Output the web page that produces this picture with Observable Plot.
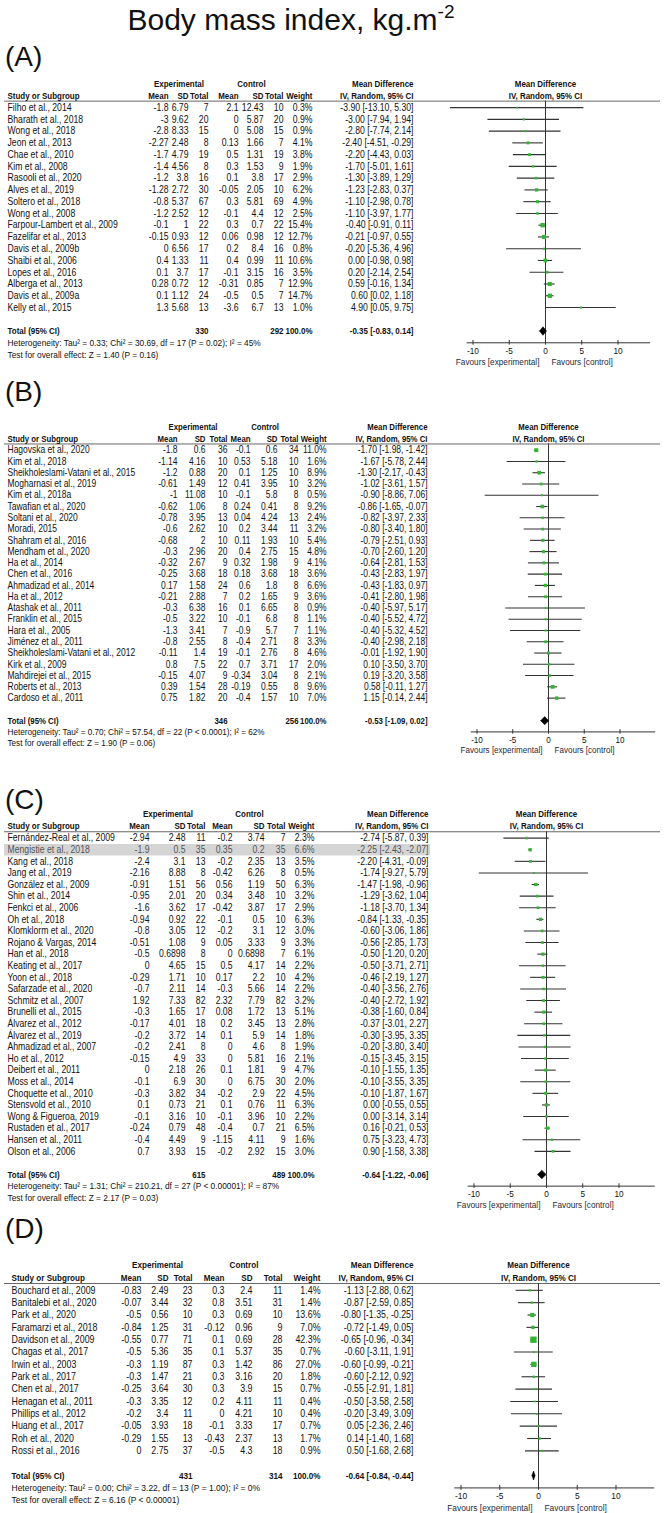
<!DOCTYPE html>
<html>
<head>
<meta charset="utf-8">
<script src="https://cdn.jsdelivr.net/npm/d3@7"></script>
<script src="https://cdn.jsdelivr.net/npm/@observablehq/plot@0.6"></script>
<style>
  html, body { margin: 0; padding: 0; background: #fff; }
  #root { position: relative; width: 664px; height: 1513px; overflow: hidden; background: #fff; }
  .title { position: absolute; left: 0; width: 582px; top: 3px; text-align: center;
           font-family: "Liberation Sans", Arial, sans-serif; font-size: 30px; line-height: 34px; color: #111; }
  .title sup { font-size: 19px; vertical-align: 0; position: relative; top: -12px; }
  .plabel { position: absolute; left: 5px; font-family: "Liberation Sans", Arial, sans-serif;
            font-size: 28px; line-height: 30px; color: #111; }
</style>
</head>
<body>
<div id="root">
  <div class="title">Body mass index, kg.m<sup>-2</sup></div>
</div>
<script>
// ---------------- DATA ----------------
// Panel A
const namesA = ["Filho et al., 2014","Bharath et al., 2018","Wong et al., 2018","Jeon et al., 2013","Chae et al., 2010","Kim et al., 2008","Rasooli et al., 2020","Alves et al., 2019","Soltero et al., 2018","Wong et al., 2008","Farpour-Lambert et al., 2009","Fazelifar et al., 2013","Davis et al., 2009b","Shaibi et al., 2006","Lopes et al., 2016","Alberga et al., 2013","Davis et al., 2009a","Kelly et al., 2015"];
const expMeanA = [-1.8,-3,-2.8,-2.27,-1.7,-1.4,-1.2,-1.28,-0.8,-1.2,-0.1,-0.15,0,0.4,0.1,0.28,0.1,1.3];
const expSdA = [6.79,9.62,8.33,2.48,4.79,4.56,3.8,2.72,5.37,2.52,1,0.93,6.56,1.33,3.7,0.72,1.12,5.68];
const expNA = [7,20,15,8,19,8,16,30,67,12,22,12,17,11,17,12,24,13];
const ctlMeanA = [2.1,0,0,0.13,0.5,0.3,0.1,-0.05,0.3,-0.1,0.3,0.06,0.2,0.4,-0.1,-0.31,-0.5,-3.6];
const ctlSdA = [12.43,5.87,5.08,1.66,1.31,1.53,3.8,2.05,5.81,4.4,0.7,0.98,8.4,0.99,3.15,0.85,0.5,6.7];
const ctlNA = [10,20,15,7,19,9,17,10,69,12,22,12,16,11,16,7,7,13];
const weightA = [0.3,0.9,0.9,4.1,3.8,1.9,2.9,6.2,4.9,2.5,15.4,12.7,0.8,10.6,3.5,12.9,14.7,1.0];
const mdA = [-3.90,-3.00,-2.80,-2.40,-2.20,-1.70,-1.30,-1.23,-1.10,-1.10,-0.40,-0.21,-0.20,0.00,0.20,0.59,0.60,4.90];
const loA = [-13.10,-7.94,-7.74,-4.51,-4.43,-5.01,-3.89,-2.83,-2.98,-3.97,-0.91,-0.97,-5.36,-0.98,-2.14,-0.16,0.02,0.05];
const hiA = [5.30,1.94,2.14,-0.29,0.03,1.61,1.29,0.37,0.78,1.77,0.11,0.55,4.96,0.98,2.54,1.34,1.18,9.75];
const totalA = [330, 292, -0.35, -0.83, 0.14];
const hetA = "Heterogeneity: Tau² = 0.33; Chi² = 30.69, df = 17 (P = 0.02); I² = 45%";
const testA = "Test for overall effect: Z = 1.40 (P = 0.16)";

// Panel B
const namesB = ["Hagovska et al., 2020","Kim et al., 2018","Sheikholeslami-Vatani et al., 2015","Mogharnasi et al., 2019","Kim et al., 2018a","Tawafian et al., 2020","Soltani et al., 2020","Moradi, 2015","Shahram et al., 2016","Mendham et al., 2020","Ha et al., 2014","Chen et al., 2016","Ahmadizad et al., 2014","Ha et al., 2012","Atashak et al., 2011","Franklin et al., 2015","Hara et al., 2005","Jiménez et al., 2011","Sheikholeslami-Vatani et al., 2012","Kirk et al., 2009","Mahdirejei et al., 2015","Roberts et al., 2013","Cardoso et al., 2011"];
const expMeanB = [-1.8,-1.14,-1.2,-0.61,-1,-0.62,-0.78,-0.6,-0.68,-0.3,-0.32,-0.25,0.17,-0.21,-0.3,-0.5,-1.3,-0.8,-0.11,0.8,-0.15,0.39,0.75];
const expSdB = [0.6,4.16,0.88,1.49,11.08,1.06,3.95,2.62,2,2.96,2.67,3.68,1.58,2.88,6.38,3.22,3.41,2.55,1.4,7.5,4.07,1.54,1.82];
const expNB = [36,10,20,12,10,8,13,10,10,20,9,18,24,7,16,10,7,8,19,22,9,28,20];
const ctlMeanB = [-0.1,0.53,0.1,0.41,-0.1,0.24,0.04,0.2,0.11,0.4,0.32,0.18,0.6,0.2,0.1,-0.1,-0.9,-0.4,-0.1,0.7,-0.34,-0.19,-0.4];
const ctlSdB = [0.6,5.18,1.25,3.95,5.8,0.41,4.24,3.44,1.93,2.75,1.98,3.68,1.8,1.65,6.65,6.8,5.7,2.71,2.76,3.71,3.04,0.55,1.57];
const ctlNB = [34,10,10,10,8,8,13,11,10,15,9,18,8,9,8,8,7,8,8,17,8,8,10];
const weightB = [11.0,1.6,8.9,3.2,0.5,9.2,2.4,3.2,5.4,4.8,4.1,3.6,6.6,3.6,0.9,1.1,1.1,3.3,4.6,2.0,2.1,9.6,7.0];
const mdB = [-1.70,-1.67,-1.30,-1.02,-0.90,-0.86,-0.82,-0.80,-0.79,-0.70,-0.64,-0.43,-0.43,-0.41,-0.40,-0.40,-0.40,-0.40,-0.01,0.10,0.19,0.58,1.15];
const loB = [-1.98,-5.78,-2.17,-3.61,-8.86,-1.65,-3.97,-3.40,-2.51,-2.60,-2.81,-2.83,-1.83,-2.80,-5.97,-5.52,-5.32,-2.98,-1.92,-3.50,-3.20,-0.11,-0.14];
const hiB = [-1.42,2.44,-0.43,1.57,7.06,-0.07,2.33,1.80,0.93,1.20,1.53,1.97,0.97,1.98,5.17,4.72,4.52,2.18,1.90,3.70,3.58,1.27,2.44];
const totalB = [346, 256, -0.53, -1.09, 0.02];
const hetB = "Heterogeneity: Tau² = 0.70; Chi² = 57.54, df = 22 (P < 0.0001); I² = 62%";
const testB = "Test for overall effect: Z = 1.90 (P = 0.06)";

// Panel C
const namesC = ["Fernández-Real et al., 2009","Mengistie et al., 2018","Kang et al., 2018","Jang et al., 2019","González et al., 2009","Shin et al., 2014","Fenkci et al., 2006","Oh et al., 2018","Klomklorm et al., 2020","Rojano & Vargas, 2014","Han et al., 2018","Keating et al., 2017","Yoon et al., 2018","Safarzade et al., 2020","Schmitz et al., 2007","Brunelli et al., 2015","Álvarez et al., 2012","Álvarez et al., 2019","Ahmadizad et al., 2007","Ho et al., 2012","Deibert et al., 2011","Moss et al., 2014","Choquette et al., 2010","Stensvold et al., 2010","Wong & Figueroa, 2019","Rustaden et al., 2017","Hansen et al., 2011","Olson et al., 2006"];
const expMeanC = [-2.94,-1.9,-2.4,-2.16,-0.91,-0.95,-1.6,-0.94,-0.8,-0.51,-0.5,0,-0.29,-0.7,1.92,-0.3,-0.17,-0.2,-0.2,-0.15,0,-0.1,-0.3,0.1,-0.1,-0.24,-0.4,0.7];
const expSdC = [2.48,0.5,3.1,8.88,1.51,2.01,3.62,0.92,3.05,1.08,0.6898,4.65,1.71,2.11,7.33,1.65,4.01,3.72,2.41,4.9,2.18,6.9,3.82,0.73,3.16,0.79,4.49,3.93];
const expNC = [11,35,13,8,56,20,17,22,12,9,8,15,10,14,82,17,18,14,8,33,26,30,34,21,10,48,9,15];
const ctlMeanC = [-0.2,0.35,-0.2,-0.42,0.56,0.34,-0.42,-0.1,-0.2,0.05,0,0.5,0.17,-0.3,2.32,0.08,0.2,0.1,0,0,0.1,0,-0.2,0.1,-0.1,-0.4,-1.15,-0.2];
const ctlSdC = [3.74,0.2,2.35,6.26,1.19,3.48,3.87,0.5,3.1,3.33,0.6898,4.17,2.2,5.66,7.79,1.72,3.45,5.9,4.6,5.81,1.81,6.75,2.9,0.76,3.96,0.7,4.11,2.92];
const ctlNC = [7,35,13,8,50,10,17,10,12,9,7,14,10,14,82,13,13,14,8,16,9,30,22,11,10,21,9,15];
const weightC = [2.3,6.6,3.5,0.5,6.3,3.2,2.9,6.3,3.0,3.3,6.1,2.2,4.2,2.2,3.2,5.1,2.8,1.8,1.9,2.1,4.7,2.0,4.5,6.3,2.2,6.5,1.6,3.0];
const mdC = [-2.74,-2.25,-2.20,-1.74,-1.47,-1.29,-1.18,-0.84,-0.60,-0.56,-0.50,-0.50,-0.46,-0.40,-0.40,-0.38,-0.37,-0.30,-0.20,-0.15,-0.10,-0.10,-0.10,0.00,0.00,0.16,0.75,0.90];
const loC = [-5.87,-2.43,-4.31,-9.27,-1.98,-3.62,-3.70,-1.33,-3.06,-2.85,-1.20,-3.71,-2.19,-3.56,-2.72,-1.60,-3.01,-3.95,-3.80,-3.45,-1.55,-3.55,-1.87,-0.55,-3.14,-0.21,-3.23,-1.58];
const hiC = [0.39,-2.07,-0.09,5.79,-0.96,1.04,1.34,-0.35,1.86,1.73,0.20,2.71,1.27,2.76,1.92,0.84,2.27,3.35,3.40,3.15,1.35,3.35,1.67,0.55,3.14,0.53,4.73,3.38];
const totalC = [615, 489, -0.64, -1.22, -0.06];
const hetC = "Heterogeneity: Tau² = 1.31; Chi² = 210.21, df = 27 (P < 0.00001); I² = 87%";
const testC = "Test for overall effect: Z = 2.17 (P = 0.03)";
const highlightC = ["Mengistie et al., 2018"];

// Panel D
const namesD = ["Bouchard et al., 2009","Banitalebi et al., 2020","Park et al., 2020","Faramarzi et al., 2018","Davidson et al., 2009","Chagas et al., 2017","Irwin et al., 2003","Park et al., 2017","Chen et al., 2017","Henagan et al., 2011","Phillips et al., 2012","Huang et al., 2017","Roh et al., 2020","Rossi et al., 2016"];
const expMeanD = [-0.83,-0.07,-0.5,-0.84,-0.55,-0.5,-0.3,-0.3,-0.25,-0.3,-0.2,-0.05,-0.29,0];
const expSdD = [2.49,3.44,0.56,1.25,0.77,5.36,1.19,1.47,3.64,3.35,3.4,3.93,1.55,2.75];
const expND = [23,32,10,31,71,35,87,21,30,12,11,18,13,37];
const ctlMeanD = [0.3,0.8,0.3,-0.12,0.1,0.1,0.3,0.3,0.3,0.2,0,-0.1,-0.43,-0.5];
const ctlSdD = [2.4,3.51,0.69,0.96,0.69,5.37,1.42,3.16,3.9,4.11,4.21,3.33,2.37,4.3];
const ctlND = [11,31,10,9,28,35,86,20,15,11,10,17,13,18];
const weightD = [1.4,1.4,13.6,7.0,42.3,0.7,27.0,1.8,0.7,0.4,0.4,0.7,1.7,0.9];
const mdD = [-1.13,-0.87,-0.80,-0.72,-0.65,-0.60,-0.60,-0.60,-0.55,-0.50,-0.20,0.05,0.14,0.50];
const loD = [-2.88,-2.59,-1.35,-1.49,-0.96,-3.11,-0.99,-2.12,-2.91,-3.58,-3.49,-2.36,-1.40,-1.68];
const hiD = [0.62,0.85,-0.25,0.05,-0.34,1.91,-0.21,0.92,1.81,2.58,3.09,2.46,1.68,2.68];
const totalD = [431, 314, -0.64, -0.84, -0.44];
const hetD = "Heterogeneity: Tau² = 0.00; Chi² = 3.22, df = 13 (P = 1.00); I² = 0%";
const testD = "Test for overall effect: Z = 6.16 (P < 0.00001)";

// Axis ticks and labels
const axisTicks = [-10, -5, 0, 5, 10];
const favoursLeft = "Favours [experimental]";
const favoursRight = "Favours [control]";
const colHeaders = ["Mean", "SD", "Total", "Mean", "SD", "Total", "Weight", "IV, Random, 95% CI"];

// ---------------- LAYOUT (positions / styles) ----------------
const FONT = '"Liberation Sans", Arial, sans-serif';
const CONDENSE = 0.85;   // emulate the narrow face of the original
const TEXT = "#111";
const GREEN = "#33b533";
const ML = 4, MR = 4;
const layouts = {
  A: {label: "(A)", labelTop: 42, top: 107.3, pitch: 11.76, fs: 10.2, nameX: 7,
      cols: [168,188,208,238,263,283,312,413], x0: 545, unit: 7.25, axis: [-10.8, 14.5]},
  B: {label: "(B)", labelTop: 377, top: 450, pitch: 11.27, fs: 10.0, nameX: 7,
      cols: [177,205,227,250,277,298,326,427], x0: 548, unit: 7.15, axis: [-10.8, 15]},
  C: {label: "(C)", labelTop: 785, top: 837.3, pitch: 11.6, fs: 10.2, nameX: 7,
      cols: [149,185,205,232,264,285,314,428], x0: 546, unit: 7.25, axis: [-10.8, 15]},
  D: {label: "(D)", labelTop: 1214, top: 1290, pitch: 12.35, fs: 10.4, nameX: 11,
      cols: [141,168,192,224,252,282,320,413], x0: 538, unit: 7.75, axis: [-10.8, 15]}
};

const root = document.getElementById("root");

// horizontally condense each text around its own anchor point
function condense(svg, k) {
  svg.querySelectorAll("text").forEach(t => {
    let tr = t.getAttribute("transform") || "";
    const x = t.getAttribute("x");
    if (x != null && /^-?[\d.]+$/.test(x)) {
      tr += ` translate(${x},0)`;
      t.removeAttribute("x");
    }
    t.setAttribute("transform", `${tr} scale(${k},1)`.trim());
  });
}

function drawPanel(L, d) {
  const n = d.names.length;
  const rows = d.names.map((name, i) => ({
    i, name, eM: d.eM[i], eS: d.eS[i], eN: d.eN[i], cM: d.cM[i], cS: d.cS[i], cN: d.cN[i],
    w: d.w[i], md: d.md[i], lo: d.lo[i], hi: d.hi[i],
    hl: (d.highlight || []).includes(name)
  }));
  const iTot = n + 1, iHet = n + 2, iTest = n + 3;
  const yTop = -2.9, yBot = n + 4.4;
  const height = (yBot - yTop) * L.pitch;
  const xRange = [L.x0 - 10 * L.unit, L.x0 + 10 * L.unit];
  const xs = Plot.scale({x: {type: "linear", domain: [-10, 10], range: xRange}});
  const fs = L.fs, hfs = L.fs * 0.92;
  const ci = (m, l, h) => `${m.toFixed(2)} [${l.toFixed(2)}, ${h.toFixed(2)}]`;
  const rowFill = r => r.hl ? "#555" : TEXT;

  const colFns = [r => String(r.eM), r => String(r.eS), r => String(r.eN),
                  r => String(r.cM), r => String(r.cS), r => String(r.cN),
                  r => r.w.toFixed(1) + "%", r => ci(r.md, r.lo, r.hi)];

  const colMarks = colFns.map((fn, k) => Plot.text(rows, {
    y: "i", text: fn, frameAnchor: "left", dx: L.cols[k] - ML, textAnchor: "end",
    fontSize: fs, fill: rowFill
  }));

  const headerMarks = colHeaders.map((h, k) => Plot.text([h], {
    y: () => -1.03, text: t => t, frameAnchor: "left", dx: L.cols[k] - ML, textAnchor: "end",
    fontSize: hfs, fontWeight: "bold", fill: TEXT
  }));

  const expCenter = (L.cols[0] - 19 + L.cols[2]) / 2;
  const ctlCenter = (L.cols[3] - 19 + L.cols[5]) / 2;

  const [totE, totC, totMd, totLo, totHi] = d.total;
  const diamond = [
    {x: totLo, y: iTot}, {x: totMd, y: iTot - 0.36}, {x: totHi, y: iTot},
    {x: totMd, y: iTot + 0.36}, {x: totLo, y: iTot}
  ];
  const totalTexts = [
    {t: "Total (95% CI)", x: L.nameX, a: "start"},
    {t: String(totE), x: L.cols[2], a: "end"},
    {t: String(totC), x: L.cols[5], a: "end"},
    {t: "100.0%", x: L.cols[6], a: "end"},
    {t: ci(totMd, totLo, totHi), x: L.cols[7], a: "end"}
  ];

  const marks = [
    Plot.ruleY(rows.filter(r => r.hl), {
      y: "i", x1: () => xs.invert(ML), x2: () => xs.invert(L.cols[7] + 2),
      stroke: "#d5d5d5", strokeWidth: L.pitch
    }),
    Plot.ruleY([-0.55], {stroke: "#666", strokeWidth: 1}),
    Plot.text(["Experimental"], {y: () => -2.05, text: t => t, frameAnchor: "left", dx: expCenter - ML, textAnchor: "middle", fontSize: hfs, fontWeight: "bold", fill: TEXT}),
    Plot.text(["Control"], {y: () => -2.05, text: t => t, frameAnchor: "left", dx: ctlCenter - ML, textAnchor: "middle", fontSize: hfs, fontWeight: "bold", fill: TEXT}),
    Plot.text(["Mean Difference"], {y: () => -2.05, text: t => t, frameAnchor: "left", dx: L.cols[7] - ML, textAnchor: "end", fontSize: hfs, fontWeight: "bold", fill: TEXT}),
    Plot.text(["Study or Subgroup"], {y: () => -1.03, text: t => t, frameAnchor: "left", dx: L.nameX - ML, textAnchor: "start", fontSize: hfs, fontWeight: "bold", fill: TEXT}),
    ...headerMarks,
    Plot.text(["Mean Difference"], {x: () => 0, y: () => -2.05, text: t => t, fontSize: hfs, fontWeight: "bold", fill: TEXT}),
    Plot.text(["IV, Random, 95% CI"], {x: () => 0, y: () => -1.03, text: t => t, fontSize: hfs, fontWeight: "bold", fill: TEXT}),
    Plot.text(rows, {y: "i", text: "name", frameAnchor: "left", dx: L.nameX - ML, textAnchor: "start", fontSize: fs, fill: rowFill}),
    ...colMarks,
    ...totalTexts.map(o => Plot.text([o], {y: () => iTot, text: "t", frameAnchor: "left", dx: o.x - ML, textAnchor: o.a, fontSize: hfs, fontWeight: "bold", fill: TEXT})),
    Plot.text([d.het], {y: () => iHet, text: t => t, frameAnchor: "left", dx: L.nameX - ML, textAnchor: "start", fontSize: fs * 0.96, fill: TEXT}),
    Plot.text([d.test], {y: () => iTest, text: t => t, frameAnchor: "left", dx: L.nameX - ML, textAnchor: "start", fontSize: fs * 0.96, fill: TEXT}),
    Plot.ruleX([0], {x: v => v, y1: -0.55, y2: iHet, stroke: "#333", strokeWidth: 1}),
    Plot.ruleY(rows, {y: "i", x1: "lo", x2: "hi", stroke: "#333", strokeWidth: 1.1}),
    Plot.dot(rows, {x: "md", y: "i", r: "w", symbol: "square", fill: GREEN, stroke: "none"}),
    Plot.line(diamond, {x: "x", y: "y", fill: "#000", stroke: "#000", strokeWidth: 0.6}),
    Plot.ruleY([iHet], {y: v => v, x1: () => L.axis[0], x2: () => L.axis[1], stroke: "#333", strokeWidth: 1}),
    Plot.ruleX(axisTicks, {x: v => v, y1: iHet - 0.2, y2: iHet + 0.2, stroke: "#333", strokeWidth: 1}),
    Plot.text(axisTicks, {x: v => v, y: () => iHet + 0.68, text: v => String(v), fontSize: fs * 0.95, fill: TEXT}),
    Plot.text([favoursLeft], {x: () => 0, y: () => iHet + 1.6, text: t => t, dx: -6, textAnchor: "end", fontSize: fs * 0.95, fill: "#2a2a3a"}),
    Plot.text([favoursRight], {x: () => 0, y: () => iHet + 1.6, text: t => t, dx: 6, textAnchor: "start", fontSize: fs * 0.95, fill: "#2a2a3a"})
  ];

  const chart = Plot.plot({
    width: 664, height,
    marginLeft: ML, marginRight: MR, marginTop: 0, marginBottom: 0,
    x: {type: "linear", domain: [-10, 10], range: xRange, axis: null},
    y: {type: "linear", domain: [yTop, yBot], range: [0, height], axis: null},
    r: {type: "sqrt", domain: [0, 42.3], range: [0.75, 3.6]},
    style: {fontFamily: FONT, color: TEXT, background: "transparent", overflow: "visible"},
    marks
  });
  condense(chart, CONDENSE);
  chart.style.position = "absolute";
  chart.style.left = "0px";
  chart.style.top = (L.top + yTop * L.pitch) + "px";
  root.appendChild(chart);

  const lab = document.createElement("div");
  lab.className = "plabel";
  lab.style.top = L.labelTop + "px";
  lab.textContent = L.label;
  root.appendChild(lab);
}

drawPanel(layouts.A, {names: namesA, eM: expMeanA, eS: expSdA, eN: expNA, cM: ctlMeanA, cS: ctlSdA, cN: ctlNA, w: weightA, md: mdA, lo: loA, hi: hiA, total: totalA, het: hetA, test: testA});
drawPanel(layouts.B, {names: namesB, eM: expMeanB, eS: expSdB, eN: expNB, cM: ctlMeanB, cS: ctlSdB, cN: ctlNB, w: weightB, md: mdB, lo: loB, hi: hiB, total: totalB, het: hetB, test: testB});
drawPanel(layouts.C, {names: namesC, eM: expMeanC, eS: expSdC, eN: expNC, cM: ctlMeanC, cS: ctlSdC, cN: ctlNC, w: weightC, md: mdC, lo: loC, hi: hiC, total: totalC, het: hetC, test: testC, highlight: highlightC});
drawPanel(layouts.D, {names: namesD, eM: expMeanD, eS: expSdD, eN: expND, cM: ctlMeanD, cS: ctlSdD, cN: ctlND, w: weightD, md: mdD, lo: loD, hi: hiD, total: totalD, het: hetD, test: testD});
</script>
</body>
</html>
